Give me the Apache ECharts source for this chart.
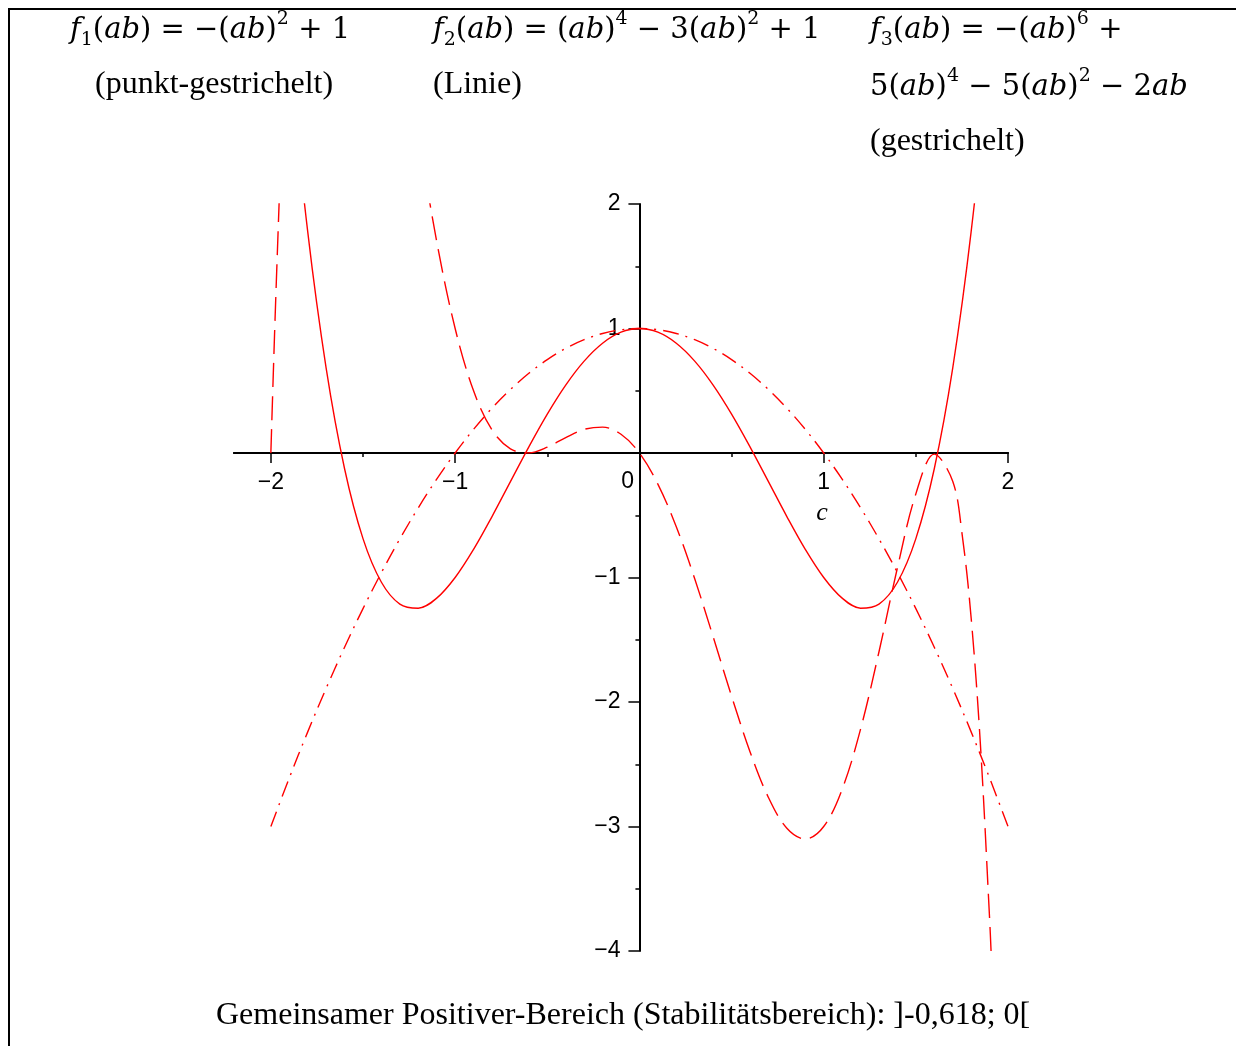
<!DOCTYPE html>
<html>
<head>
<meta charset="utf-8">
<title>f1, f2, f3</title>
<script src="https://cdn.jsdelivr.net/npm/echarts@6/dist/echarts.min.js"></script>
<style>
    html, body { margin: 0; padding: 0; background: #fff; }
    #main { width: 1236px; height: 1046px; }
</style>
</head>
<body>
<div id="main"></div>
<script>
// x-Werte, Schrittweite 0,1
const xWerte = [-2.0, -1.9, -1.8, -1.7, -1.6, -1.5, -1.4, -1.3, -1.2, -1.1, -1.0,
    -0.9, -0.8, -0.7, -0.6, -0.5, -0.4, -0.3, -0.2, -0.1, 0,
    0.1, 0.2, 0.3, 0.4, 0.5, 0.6, 0.7, 0.8, 0.9, 1.0,
    1.1, 1.2, 1.3, 1.4, 1.5, 1.6, 1.7, 1.8, 1.9, 2.0];

// f1 (punkt-gestrichelt)
const f1Werte = [-3, -2.61, -2.24, -1.89, -1.56, -1.25, -0.96, -0.69, -0.44, -0.21, 0,
    0.19, 0.36, 0.51, 0.64, 0.75, 0.84, 0.91, 0.96, 0.99, 1,
    0.99, 0.96, 0.91, 0.84, 0.75, 0.64, 0.51, 0.36, 0.19, 0,
    -0.21, -0.44, -0.69, -0.96, -1.25, -1.56, -1.89, -2.24, -2.61, -3];

// f2 (Linie)
const f2Werte = [5, 3.2021, 1.7776, 0.6821, -0.1264, -0.6875, -1.0384, -1.2139, -1.2464, -1.1659, -1,
    -0.7739, -0.5104, -0.2299, 0.0496, 0.3125, 0.5456, 0.7381, 0.8816, 0.9701, 1,
    0.9701, 0.8816, 0.7381, 0.5456, 0.3125, 0.0496, -0.2299, -0.5104, -0.7739, -1,
    -1.1659, -1.2464, -1.2139, -1.0384, -0.6875, -0.1264, 0.6821, 1.7776, 3.2021, 5];

// f3 (gestrichelt), an den Raendern dichter
const f3X = [-2.0, -1.98, -1.96, -1.95, -1.9, -1.8, -1.7, -1.6, -1.5, -1.4, -1.3, -1.2, -1.1, -1.0,
    -0.9, -0.8, -0.7, -0.6, -0.5, -0.4, -0.3, -0.2, -0.1, 0,
    0.1, 0.2, 0.3, 0.4, 0.5, 0.6, 0.7, 0.8, 0.9, 1.0,
    1.1, 1.2, 1.3, 1.4, 1.5, 1.6, 1.7, 1.75, 1.8, 1.85, 1.9, 1.91];
const f3Werte = [0, 0.951, 1.8076, 2.2021, 3.8646, 5.8758, 6.5729, 6.3908, 5.6719, 4.6785, 3.6037, 2.582, 1.6989, 1,
    0.4991, 0.1859, 0.0329, 0.0013, 0.0469, 0.1239, 0.1898, 0.2079, 0.1505, 0,
    -0.2495, -0.5921, -1.0102, -1.4761, -1.9531, -2.3987, -2.7671, -3.0141, -3.1009, -3,
    -2.7011, -2.218, -1.5963, -0.9215, -0.3281, -0.0092, -0.2271, -0.6409, -1.3242, -2.3345, -3.7354, -4.0687];

// Achsen
const xHauptTicks = [-2, -1, 1, 2];
const xNebenTicks = [-1.5, -0.5, 0.5, 1.5];
const xBeschriftung = [-2, -1, 1, 2];

const rot = '#ff0000';
const achsenFont = 'Liberation Sans';
const matheFont = 'DejaVu Serif';
const textFont = 'Liberation Serif';

// Gitter (Pixel) und Lage der Achsen im Nullpunkt
const gLinks = 234, gRechts = 228, gOben = 204, gUnten = 95;
const gBreite = 1236 - gLinks - gRechts, gHoehe = 1046 - gOben - gUnten;
const xVersatz = -(gHoehe * 4 / 6);          // x-Achse bei y = 0
const yVersatz = -(gBreite * 2.2 / 4.2);     // y-Achse bei x = 0

const zahl = function (v) {
    if (v === 0) return '';
    return v < 0 ? '\u2212' + (-v) : String(v);
};

const paare = function (xs, ys) {
    return xs.map(function (x, i) { return [x, ys[i]]; });
};

const matheRich = {
    i: { fontFamily: matheFont, fontStyle: 'italic', fontSize: 29, lineHeight: 40, fill: '#000' },
    n: { fontFamily: matheFont, fontSize: 29, lineHeight: 40, fill: '#000' },
    sup: { fontFamily: matheFont, fontSize: 19, lineHeight: 22, verticalAlign: 'top', fill: '#000' },
    sub: { fontFamily: matheFont, fontSize: 19, lineHeight: 22, verticalAlign: 'bottom', fill: '#000' }
};

const mathe = function (text, x, y) {
    return {
        type: 'text', silent: true,
        style: { text: text, x: x, y: y, align: 'left', verticalAlign: 'middle', rich: matheRich }
    };
};

const normal = function (text, x, y, size) {
    return {
        type: 'text', silent: true,
        style: { text: text, x: x, y: y, align: 'left', verticalAlign: 'middle',
            fontFamily: textFont, fontSize: size, fill: '#000' }
    };
};

const drawChart = function () {
    let myChart = echarts.init(document.getElementById('main'));

    let option = {
        animation: false,
        backgroundColor: '#fff',
        grid: { left: gLinks, right: gRechts, top: gOben, bottom: gUnten, containLabel: false, outerBoundsMode: 'none' },
        xAxis: [{
            type: 'value', min: -2.2, max: 2, position: 'bottom', offset: xVersatz,
            axisLine: { onZero: false, lineStyle: { color: '#000', width: 2 } },
            axisTick: { show: true, customValues: xHauptTicks, length: 10, lineStyle: { color: '#000', width: 1.5 } },
            axisLabel: { customValues: xBeschriftung, formatter: zahl, margin: 18,
                fontFamily: achsenFont, fontSize: 23, color: '#000' },
            splitLine: { show: false }
        }, {
            type: 'value', min: -2.2, max: 2, position: 'bottom', offset: xVersatz,
            axisLine: { onZero: false, lineStyle: { color: '#000', width: 2 } },
            axisTick: { show: true, customValues: xNebenTicks, length: 4, lineStyle: { color: '#000', width: 1.5 } },
            axisLabel: { show: false },
            splitLine: { show: false }
        }],
        yAxis: {
            type: 'value', min: -4, max: 2, interval: 1, position: 'left', offset: yVersatz,
            axisLine: { onZero: false, lineStyle: { color: '#000', width: 2 } },
            axisTick: { show: true, length: 11, lineStyle: { color: '#000', width: 1.5 } },
            minorTick: { show: true, splitNumber: 2, length: 4, lineStyle: { color: '#000', width: 1.5 } },
            axisLabel: { formatter: zahl, margin: 19, fontFamily: achsenFont, fontSize: 23, color: '#000' },
            splitLine: { show: false },
            minorSplitLine: { show: false }
        },
        series: [{
            name: 'f1', type: 'line', data: paare(xWerte, f1Werte),
            showSymbol: false, symbol: 'none', smooth: 0.35, clip: true,
            lineStyle: { color: rot, width: 1.4, type: [16, 7, 2, 7] }
        }, {
            name: 'f2', type: 'line', data: paare(xWerte, f2Werte),
            showSymbol: false, symbol: 'none', smooth: 0.35, clip: true,
            lineStyle: { color: rot, width: 1.4, type: 'solid' }
        }, {
            name: 'f3', type: 'line', data: paare(f3X, f3Werte),
            showSymbol: false, symbol: 'none', smooth: 0.35, clip: true,
            lineStyle: { color: rot, width: 1.4, type: [24, 9] }
        }],
        graphic: [
            // Rahmen
            { type: 'line', silent: true, shape: { x1: 8, y1: 9, x2: 1236, y2: 9 }, style: { stroke: '#000', lineWidth: 2 } },
            { type: 'line', silent: true, shape: { x1: 9, y1: 8, x2: 9, y2: 1046 }, style: { stroke: '#000', lineWidth: 2 } },
            // Formeln
            mathe('{i|f}{sub|1}{n|(}{i|ab}{n|) = \u2212(}{i|ab}{n|)}{sup|2}{n| + 1}', 70, 30),
            normal('(punkt-gestrichelt)', 95, 85, 32),
            mathe('{i|f}{sub|2}{n|(}{i|ab}{n|) = (}{i|ab}{n|)}{sup|4}{n| \u2212 3(}{i|ab}{n|)}{sup|2}{n| + 1}', 433, 30),
            normal('(Linie)', 433, 85, 32),
            mathe('{i|f}{sub|3}{n|(}{i|ab}{n|) = \u2212(}{i|ab}{n|)}{sup|6}{n| +}', 870, 30),
            mathe('{n|5(}{i|ab}{n|)}{sup|4}{n| \u2212 5(}{i|ab}{n|)}{sup|2}{n| \u2212 2}{i|ab}', 870, 87),
            normal('(gestrichelt)', 870, 142, 32),
            // Achsenbeschriftung
            { type: 'text', silent: true, style: { text: '0', x: 634, y: 482, align: 'right', verticalAlign: 'middle',
                fontFamily: achsenFont, fontSize: 23, fill: '#000' } },
            { type: 'text', silent: true, style: { text: 'c', x: 822, y: 513, align: 'center', verticalAlign: 'middle',
                fontFamily: textFont, fontStyle: 'italic', fontSize: 26, fill: '#000' } },
            // Fusszeile
            normal('Gemeinsamer Positiver-Bereich (Stabilit\u00e4tsbereich): ]-0,618; 0[', 216, 1016, 32)
        ]
    };

    myChart.setOption(option);
};

drawChart();
</script>
</body>
</html>
